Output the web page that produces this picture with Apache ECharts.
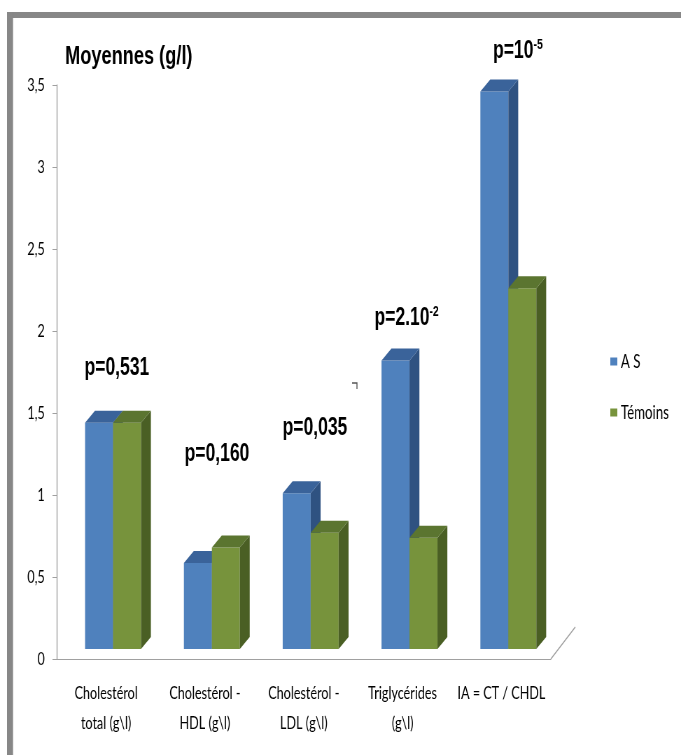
<!DOCTYPE html>
<html>
<head>
<meta charset="utf-8">
<script src="https://cdn.jsdelivr.net/npm/echarts@6/dist/echarts.min.js"></script>
<style>
  html, body { margin: 0; padding: 0; background: #ffffff; overflow: hidden; }
  #wrap { width: 681px; height: 755px; overflow: hidden; position: relative; }
  /* the chart is laid out wide and condensed horizontally, like the original export */
  #chart { width: 973px; height: 755px; transform: scaleX(0.69990); transform-origin: 0 0; }
</style>
</head>
<body>
<div id="wrap"><div id="chart"></div></div>
<script>
// Mean lipid values (g/l) for the AS group and the control group
const categories = [
  'Cholestérol\ntotal (g\\l)',
  'Cholestérol -\nHDL (g\\l)',
  'Cholestérol -\nLDL (g\\l)',
  'Triglycérides\n(g\\l)',
  'IA = CT / CHDL'
];
const seriesNames = ['A S', 'Témoins'];
const asValues = [1.44, 0.585, 1.01, 1.82, 3.46];
const temoinsValues = [1.44, 0.68, 0.77, 0.74, 2.26];

// p-value annotation for each group: base text and optional exponent
const pBase = ['p=0,531', 'p=0,160', 'p=0,035', 'p=2.10', 'p=10'];
const pExp = ['', '', '', '-2', '-5'];

const yMin = 0, yMax = 3.5, yStep = 0.5;

const sans = '"Liberation Sans", Arial, sans-serif';
const body = 'Lato, "Liberation Sans", sans-serif';

const palette = [
  { front: '#4f81bd', top: '#3a639a', side: '#2f5281' },
  { front: '#77933c', top: '#5b7530', side: '#4a5f24' }
];

// Pseudo-3D column: front face, right side face and top face
function columnRenderer(slot) {
  const c = palette[slot];
  return function (params, api) {
    const idx = api.value(0);
    const val = api.value(1);
    const band = api.size([1, 0])[0];
    const base = api.coord([idx, 0]);
    const top = api.coord([idx, val]);
    const w = band * 0.283;
    const dx = band * 0.1;
    const dy = 12;
    const lift = 10;
    const pairCenter = base[0] + band * 0.07;
    const x0 = slot === 0 ? pairCenter - w : pairCenter;
    const x1 = x0 + w;
    const yTop = top[1];
    const yBot = base[1] - lift;
    return {
      type: 'group',
      children: [
        { type: 'rect', shape: { x: x0, y: yTop, width: w, height: yBot - yTop }, style: { fill: c.front } },
        { type: 'polygon', shape: { points: [[x1, yTop], [x1 + dx, yTop - dy], [x1 + dx, yBot - dy], [x1, yBot]] }, style: { fill: c.side } },
        { type: 'polygon', shape: { points: [[x0, yTop], [x0 + dx, yTop - dy], [x1 + dx, yTop - dy], [x1, yTop]] }, style: { fill: c.top } }
      ]
    };
  };
}

function toData(values) {
  return values.map((v, i) => [i, v]);
}

// Positions of the p-value annotations above each group
const pPos = [[167, 368], [310, 454], [450, 428], [581, 318], [740, 51]];

const pTexts = pBase.map((b, i) => ({
  type: 'text',
  x: pPos[i][0],
  y: pPos[i][1],
  style: {
    text: pExp[i] ? '{m|' + b + '}{s|' + pExp[i] + '}' : '{m|' + b + '}',
    align: 'center',
    verticalAlign: 'middle',
    fill: '#000',
    rich: {
      m: { fontFamily: sans, fontWeight: 'bold', fontSize: 25, lineHeight: 28, fill: '#000' },
      s: { fontFamily: sans, fontWeight: 'bold', fontSize: 15, lineHeight: 18, verticalAlign: 'top', fill: '#000' }
    }
  }
}));

const chart = echarts.init(document.getElementById('chart'));
chart.setOption({
  backgroundColor: '#ffffff',
  animation: false,
  grid: { left: 81, right: 186, top: 85, bottom: 96 },
  legend: {
    orient: 'vertical',
    left: 867,
    top: 347,
    itemWidth: 10,
    itemHeight: 8,
    itemGap: 32,
    icon: 'rect',
    textStyle: { fontFamily: body, fontSize: 19, color: '#000' },
    data: seriesNames
  },
  xAxis: {
    type: 'category',
    data: categories,
    axisLine: { lineStyle: { color: '#a0a0a0', width: 1 } },
    axisTick: { length: 8, lineStyle: { color: '#a0a0a0' } },
    axisLabel: {
      interval: 0,
      margin: 19,
      lineHeight: 30,
      fontFamily: body,
      fontSize: 18,
      color: '#000'
    },
    splitLine: { show: false }
  },
  yAxis: {
    type: 'value',
    min: yMin,
    max: yMax,
    interval: yStep,
    axisLine: { show: true, lineStyle: { color: '#a0a0a0', width: 1.4 } },
    axisTick: { show: true, length: 6, lineStyle: { color: '#a0a0a0' } },
    axisLabel: {
      margin: 17,
      fontFamily: body,
      fontSize: 18,
      color: '#000',
      formatter: v => String(v).replace('.', ',')
    },
    splitLine: { show: false }
  },
  series: [
    {
      name: seriesNames[0],
      type: 'custom',
      renderItem: columnRenderer(0),
      itemStyle: { color: palette[0].front },
      encode: { x: 0, y: 1 },
      data: toData(asValues)
    },
    {
      name: seriesNames[1],
      type: 'custom',
      renderItem: columnRenderer(1),
      itemStyle: { color: palette[1].front },
      encode: { x: 0, y: 1 },
      data: toData(temoinsValues)
    }
  ],
  graphic: [
    // outer frame: top and left edges
    { type: 'rect', shape: { x: 10, y: 12, width: 1000, height: 6 }, style: { fill: '#878787' }, silent: true },
    { type: 'rect', shape: { x: 10, y: 12, width: 8.6, height: 760 }, style: { fill: '#878787' }, silent: true },
    // floor edge receding on the right
    {
      type: 'line',
      shape: { x1: 787, y1: 659, x2: 822, y2: 627 },
      style: { stroke: '#a0a0a0', lineWidth: 1.4 }
    },
    // small stray mark in the plot area
    {
      type: 'polyline',
      shape: { points: [[503, 383], [510, 383], [510, 389]] },
      style: { stroke: '#555', lineWidth: 1.4, fill: 'none' }
    },
    {
      type: 'text',
      x: 93,
      y: 57,
      style: {
        text: 'Moyennes (g/l)',
        font: 'bold 26px "Liberation Sans", Arial, sans-serif',
        fill: '#000',
        align: 'left',
        verticalAlign: 'middle'
      }
    }
  ].concat(pTexts)
});
</script>
</body>
</html>
